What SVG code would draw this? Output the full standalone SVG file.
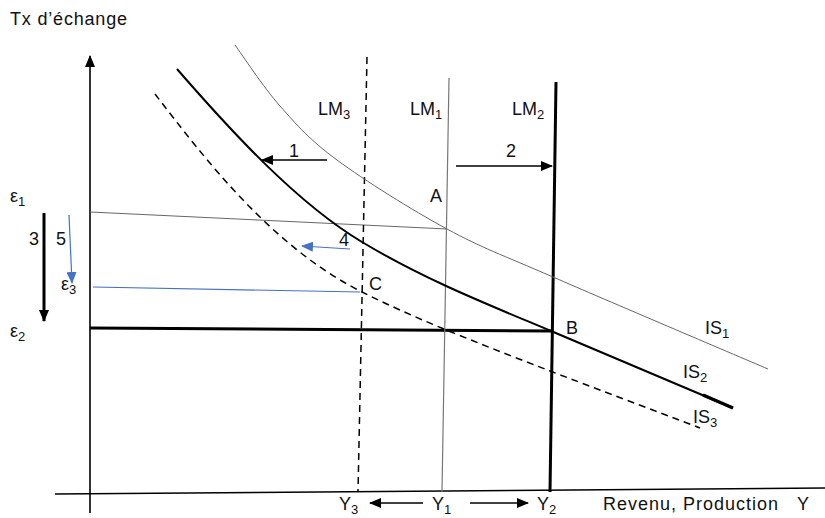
<svg xmlns="http://www.w3.org/2000/svg" width="825" height="518" viewBox="0 0 825 518">
<defs>
<marker id="ah" markerUnits="userSpaceOnUse" markerWidth="12" markerHeight="10" refX="11" refY="5" orient="auto"><path d="M0,0 L12,5 L0,10 Z" fill="#000"/></marker>
<marker id="ahb" markerUnits="userSpaceOnUse" markerWidth="12" markerHeight="10" refX="11" refY="5" orient="auto"><path d="M0,0 L12,5 L0,10 Z" fill="#4472C4"/></marker>
<style>
text{font-family:"Liberation Sans",Arial,sans-serif;font-size:18px;fill:#111}
.sub{font-size:13px}
.thin{stroke:#666;stroke-width:1;fill:none}
.blk{stroke:#000;fill:none}
.dash{stroke:#000;fill:none;stroke-width:1.5;stroke-dasharray:7,5}
.blue{stroke:#4472C4;fill:none;stroke-width:1.2}
</style>
</defs>
<rect width="825" height="518" fill="#fff"/>
<g id="axes">
<line x1="90" y1="513" x2="90" y2="56" class="blk" stroke-width="1.6" marker-end="url(#ah)"/>
<line x1="55" y1="494" x2="825" y2="488" class="blk" stroke-width="1.6"/>
</g>
<g id="connectors">
<line x1="90" y1="212" x2="447" y2="229" class="thin"/>
<line x1="93" y1="287" x2="360" y2="292" class="blue" stroke-width="1"/>
<line x1="90" y1="328" x2="551" y2="331" class="blk" stroke-width="3"/>
<line x1="367" y1="57" x2="358" y2="492" class="dash"/>
<line x1="449" y1="78" x2="442" y2="492" stroke="#777" stroke-width="1.2"/>
<line x1="556" y1="82" x2="550" y2="492" class="blk" stroke-width="3"/>
<path id="IS1" class="thin" d="M235,45 C242.5,55.2 263,86.8 280,106 C297,125.2 309.2,139.5 337,160 C364.8,180.5 411,209.5 447,229 C483,248.5 499.5,253.7 553,277 C606.5,300.3 732.2,353.7 768,369"/>
<path id="IS2" class="blk" stroke-width="2" d="M177,69 C232,132.3 297,203 362,242 C425,279.8 488,304.5 551,331 L733,408"/>
<line x1="703" y1="395" x2="733" y2="408" class="blk" stroke-width="3.5"/>
<path id="IS3" class="dash" d="M155,94 C205,159 272,247 362,292 C422,322 490,347.6 550,371 L700,428"/>
<line x1="44" y1="213" x2="44" y2="321" class="blk" stroke-width="3" marker-end="url(#ah)"/>
<line x1="69" y1="215" x2="72" y2="283" class="blue" stroke-width="1.5" marker-end="url(#ahb)"/>
<line x1="327" y1="160" x2="262" y2="160" class="blk" stroke-width="1.6" marker-end="url(#ah)"/>
<line x1="456" y1="166" x2="552" y2="166" class="blk" stroke-width="1.6" marker-end="url(#ah)"/>
<line x1="350" y1="249" x2="302" y2="246" class="blue" stroke-width="1.2" marker-end="url(#ahb)"/>
<line x1="423" y1="503" x2="370" y2="503" class="blk" stroke-width="1.6" marker-end="url(#ah)"/>
<line x1="470" y1="503" x2="528" y2="503" class="blk" stroke-width="1.6" marker-end="url(#ah)"/>
</g>
<g id="labels">
<text x="10" y="25" textLength="117">Tx d’échange</text>
<text x="10" y="202" font-size="19">ε<tspan class="sub" dy="4">1</tspan></text>
<text x="10" y="337" font-size="19">ε<tspan class="sub" dy="4">2</tspan></text>
<text x="61" y="290" font-size="19">ε<tspan class="sub" dy="4">3</tspan></text>
<text x="29" y="245">3</text>
<text x="56" y="245">5</text>
<text x="318" y="115">LM<tspan class="sub" dy="4">3</tspan></text>
<text x="410" y="115">LM<tspan class="sub" dy="4">1</tspan></text>
<text x="512" y="115">LM<tspan class="sub" dy="4">2</tspan></text>
<text x="289" y="157">1</text>
<text x="506" y="157">2</text>
<text x="430" y="202">A</text>
<text x="339" y="246">4</text>
<text x="369" y="290">C</text>
<text x="566" y="334">B</text>
<text x="705" y="334">IS<tspan class="sub" dy="4">1</tspan></text>
<text x="683" y="378">IS<tspan class="sub" dy="4">2</tspan></text>
<text x="693" y="423">IS<tspan class="sub" dy="4">3</tspan></text>
<text x="339" y="510">Y<tspan class="sub" dy="4">3</tspan></text>
<text x="432" y="510">Y<tspan class="sub" dy="4">1</tspan></text>
<text x="537" y="510">Y<tspan class="sub" dy="4">2</tspan></text>
<text x="603" y="510" textLength="175">Revenu, Production</text>
<text x="797" y="510">Y</text>
</g>
</svg>
